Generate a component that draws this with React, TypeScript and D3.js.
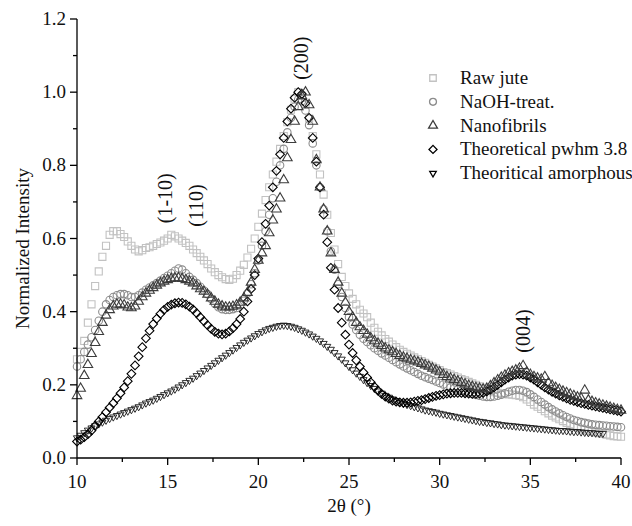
import React from "react";
import * as d3 from "d3";

const X_START = 10;
const X_STEP = 0.2;

const RAW_JUTE = [
  0.27, 0.29, 0.32, 0.37, 0.42, 0.47, 0.51, 0.55, 0.58, 0.61,
  0.62, 0.62, 0.612, 0.604, 0.592, 0.58, 0.57, 0.565, 0.568, 0.574,
  0.576, 0.58, 0.585, 0.589, 0.594, 0.6, 0.61, 0.606, 0.6, 0.594,
  0.588, 0.58, 0.57, 0.56, 0.55, 0.54, 0.53, 0.518, 0.508, 0.5,
  0.494, 0.489, 0.487, 0.49, 0.5, 0.512, 0.528, 0.548, 0.572, 0.6,
  0.632, 0.668, 0.705, 0.74, 0.775, 0.81, 0.845, 0.88, 0.918, 0.952,
  0.982, 1.0, 0.99, 0.965, 0.928, 0.88, 0.83, 0.775, 0.72, 0.665,
  0.615, 0.57, 0.53, 0.495, 0.47, 0.45, 0.435, 0.42, 0.405, 0.395,
  0.385, 0.37, 0.356, 0.345, 0.335, 0.325, 0.318, 0.31, 0.303, 0.296,
  0.29, 0.285, 0.28, 0.275, 0.27, 0.265, 0.26, 0.255, 0.25, 0.245,
  0.24, 0.235, 0.232, 0.228, 0.224, 0.22, 0.216, 0.212, 0.208, 0.204,
  0.2, 0.196, 0.192, 0.188, 0.184, 0.18, 0.178, 0.176, 0.175, 0.174,
  0.173, 0.172, 0.17, 0.166, 0.16, 0.153, 0.146, 0.14, 0.134, 0.128,
  0.122, 0.116, 0.111, 0.106, 0.101, 0.096, 0.092, 0.088, 0.084, 0.08,
  0.077, 0.074, 0.072, 0.07, 0.068, 0.066, 0.064, 0.062, 0.06, 0.059,
  0.058,
];

const NAOH_TREAT = [
  0.25, 0.27, 0.29, 0.31, 0.33, 0.35, 0.375, 0.4, 0.42, 0.432,
  0.44, 0.445, 0.448, 0.448, 0.445, 0.44, 0.44, 0.445, 0.452, 0.46,
  0.466, 0.472, 0.478, 0.485, 0.492, 0.498, 0.505, 0.512, 0.518, 0.515,
  0.505, 0.495, 0.487, 0.478, 0.468, 0.458, 0.448, 0.435, 0.422, 0.412,
  0.407, 0.405, 0.405, 0.407, 0.41, 0.418, 0.43, 0.45, 0.475, 0.505,
  0.54, 0.58, 0.62, 0.665, 0.71, 0.755, 0.8, 0.845, 0.89, 0.93,
  0.96, 0.98, 0.975, 0.95, 0.91, 0.86, 0.8, 0.74, 0.68, 0.62,
  0.565, 0.515, 0.475, 0.44, 0.41, 0.385, 0.365, 0.35, 0.337, 0.326,
  0.317, 0.308, 0.3, 0.293, 0.286, 0.28, 0.274, 0.268, 0.262, 0.256,
  0.25, 0.245, 0.24, 0.235, 0.23, 0.225, 0.221, 0.217, 0.213, 0.209,
  0.205, 0.201, 0.197, 0.193, 0.19, 0.187, 0.184, 0.181, 0.178, 0.175,
  0.172, 0.17, 0.168, 0.167, 0.167, 0.168, 0.17, 0.173, 0.177, 0.181,
  0.184, 0.186, 0.186, 0.184, 0.18, 0.174, 0.167, 0.16, 0.153, 0.146,
  0.139, 0.133, 0.127, 0.122, 0.117, 0.112, 0.108, 0.104, 0.101, 0.098,
  0.096, 0.094, 0.092, 0.091, 0.09, 0.089, 0.088, 0.087, 0.086, 0.085,
  0.084,
];

const NANOFIBRILS = [
  0.17, 0.19, 0.225, 0.255, 0.285, 0.315, 0.345, 0.37, 0.39, 0.405,
  0.415, 0.42, 0.42, 0.418, 0.412, 0.41, 0.415, 0.428, 0.44, 0.45,
  0.458, 0.465, 0.472, 0.478, 0.483, 0.487, 0.49, 0.492, 0.492, 0.49,
  0.487, 0.483, 0.478, 0.47, 0.462, 0.455, 0.447, 0.437, 0.428, 0.42,
  0.415, 0.412, 0.412, 0.414, 0.418, 0.425, 0.437, 0.452, 0.48, 0.515,
  0.54, 0.56, 0.58, 0.615, 0.65, 0.68, 0.71, 0.76, 0.82, 0.87,
  0.92, 0.96, 0.99, 1.0, 0.965, 0.92, 0.815, 0.74, 0.68, 0.62,
  0.56, 0.515, 0.48, 0.45, 0.425, 0.4, 0.385, 0.37, 0.358, 0.348,
  0.338, 0.328, 0.32, 0.313, 0.307, 0.3, 0.295, 0.29, 0.285, 0.28,
  0.275, 0.272, 0.268, 0.265, 0.262, 0.258, 0.254, 0.25, 0.245, 0.24,
  0.235, 0.228, 0.222, 0.218, 0.214, 0.21, 0.206, 0.202, 0.198, 0.195,
  0.192, 0.19, 0.188, 0.19, 0.197, 0.205, 0.213, 0.22, 0.226, 0.232,
  0.236, 0.24, 0.245, 0.252, 0.235, 0.228, 0.222, 0.218, 0.215, 0.222,
  0.205, 0.198, 0.192, 0.187, 0.182, 0.178, 0.174, 0.17, 0.166, 0.163,
  0.185, 0.158, 0.154, 0.15, 0.147, 0.144, 0.141, 0.138, 0.135, 0.132,
  0.13,
];

const THEORETICAL_PWHM = [
  0.045, 0.05, 0.057, 0.065, 0.075, 0.088, 0.1, 0.112, 0.125, 0.138,
  0.15, 0.163, 0.177, 0.193, 0.21, 0.23, 0.253, 0.278, 0.303, 0.327,
  0.348, 0.366, 0.381, 0.394, 0.405, 0.413, 0.419, 0.423, 0.425, 0.424,
  0.42, 0.414, 0.406, 0.396, 0.385, 0.374, 0.363, 0.353, 0.345, 0.34,
  0.338, 0.34, 0.346, 0.355, 0.366, 0.38, 0.4, 0.428, 0.462, 0.5,
  0.545, 0.59, 0.64, 0.69, 0.74, 0.785, 0.83, 0.875, 0.92, 0.955,
  0.985, 1.0, 0.995, 0.97, 0.93, 0.875, 0.81, 0.74, 0.665, 0.59,
  0.52, 0.46, 0.41, 0.37, 0.337, 0.31, 0.287, 0.267, 0.25, 0.234,
  0.22, 0.207, 0.195, 0.184, 0.175, 0.168, 0.162, 0.157, 0.154, 0.152,
  0.151, 0.151, 0.152, 0.154, 0.156, 0.158, 0.161, 0.164, 0.167, 0.17,
  0.172, 0.174, 0.176, 0.177, 0.178, 0.178, 0.178, 0.177, 0.176, 0.175,
  0.175, 0.176, 0.178, 0.182, 0.187, 0.193, 0.2, 0.207, 0.214, 0.22,
  0.225, 0.228, 0.229, 0.228, 0.225, 0.22, 0.214, 0.207, 0.2, 0.193,
  0.187, 0.181, 0.176, 0.171, 0.167, 0.163, 0.159, 0.156, 0.153, 0.15,
  0.148, 0.145, 0.143, 0.141, 0.139, 0.137, 0.135, 0.133, 0.131, 0.129,
  0.127,
];

const THEORETICAL_AMORPHOUS = [
  0.055, 0.062, 0.069, 0.076, 0.082, 0.088, 0.093, 0.098, 0.103, 0.108,
  0.112, 0.116, 0.12, 0.124, 0.128, 0.132, 0.136, 0.14, 0.145, 0.15,
  0.154, 0.158, 0.163, 0.168, 0.173, 0.178, 0.183, 0.188, 0.194, 0.2,
  0.206, 0.212, 0.218, 0.225, 0.232, 0.239, 0.246, 0.253, 0.26, 0.267,
  0.274, 0.281, 0.288, 0.295, 0.302, 0.309, 0.316, 0.322, 0.328, 0.334,
  0.34, 0.345, 0.35, 0.354, 0.357, 0.36, 0.362, 0.363, 0.362, 0.36,
  0.357, 0.353, 0.349, 0.344, 0.339, 0.333, 0.327, 0.32, 0.313, 0.305,
  0.297, 0.288, 0.279, 0.27, 0.26, 0.25, 0.241, 0.232, 0.223, 0.214,
  0.206, 0.198, 0.19, 0.183, 0.177, 0.171, 0.166, 0.161, 0.157, 0.153,
  0.149, 0.146, 0.143, 0.14, 0.137, 0.134, 0.131, 0.129, 0.127, 0.125,
  0.122, 0.12, 0.118, 0.116, 0.114, 0.112, 0.11, 0.108, 0.106, 0.104,
  0.102, 0.1, 0.099, 0.097, 0.096, 0.094, 0.093, 0.091, 0.09, 0.089,
  0.088, 0.087, 0.086, 0.085, 0.084, 0.083, 0.082, 0.081, 0.08, 0.079,
  0.078, 0.077, 0.076, 0.075, 0.075, 0.074, 0.073, 0.072, 0.072, 0.071,
  0.07, 0.069, 0.069, 0.068, 0.067, 0.067,
];

const X_TICKS = [10, 15, 20, 25, 30, 35, 40];
const X_MINOR = [12.5, 17.5, 22.5, 27.5, 32.5, 37.5];
const Y_TICKS = [0, 0.2, 0.4, 0.6, 0.8, 1.0, 1.2];
const Y_MINOR = [0.1, 0.3, 0.5, 0.7, 0.9, 1.1];

const SERIES_NAMES = [
  "Raw jute",
  "NaOH-treat.",
  "Nanofibrils",
  "Theoretical pwhm 3.8",
  "Theoritical amorphous",
];

const PEAK_LABELS = ["(1-10)", "(110)", "(200)", "(004)"];
const PEAK_X = [14.85, 16.56, 22.36, 34.6];
const PEAK_Y = [0.71, 0.69, 1.093, 0.347];

const FONT = '"Liberation Serif", "DejaVu Serif", "Noto Serif", serif';

type Style = {
  type: d3.SymbolType;
  size: number;
  rotate: number;
  stroke: string;
  width: number;
};

const STYLES: Style[] = [
  { type: d3.symbolSquare, size: 50, rotate: 0, stroke: "#c2c2c2", width: 1.1 },
  { type: d3.symbolCircle, size: 44, rotate: 0, stroke: "#8c8c8c", width: 1.1 },
  { type: d3.symbolTriangle, size: 40, rotate: 0, stroke: "#3c3c3c", width: 1.1 },
  { type: d3.symbolSquare, size: 38, rotate: 45, stroke: "#000000", width: 1.1 },
  { type: d3.symbolTriangle, size: 22, rotate: 180, stroke: "#1a1a1a", width: 0.9 },
];

const DATA = [RAW_JUTE, NAOH_TREAT, NANOFIBRILS, THEORETICAL_PWHM, THEORETICAL_AMORPHOUS];
const DRAW_ORDER = [0, 1, 4, 3, 2];

export default function App() {
  const W = 632;
  const H = 526;
  const x = d3.scaleLinear().domain([10, 40]).range([77, 621]);
  const y = d3.scaleLinear().domain([0, 1.2]).range([458, 19]);
  const x0 = x(10);
  const y0 = y(0);

  return (
    <svg
      width={W}
      height={H}
      style={{ position: "absolute", left: 0, top: 0, background: "#fff" }}
    >
      <rect width={W} height={H} fill="#fff" />
      {DRAW_ORDER.map((si) => {
        const st = STYLES[si];
        const path = d3.symbol().type(st.type).size(st.size)()!;
        return (
          <g key={si}>
            {DATA[si].map((v, i) => (
              <path
                key={i}
                d={path}
                transform={`translate(${x(X_START + X_STEP * i)},${y(v)}) rotate(${st.rotate})`}
                fill="none"
                stroke={st.stroke}
                strokeWidth={st.width}
              />
            ))}
          </g>
        );
      })}

      <line x1={x0} x2={x(40)} y1={y0} y2={y0} stroke="#000" strokeWidth={1.3} />
      <line x1={x0} x2={x0} y1={y0} y2={y(1.2)} stroke="#000" strokeWidth={1.3} />
      {X_MINOR.map((t) => (
        <line key={"xm" + t} x1={x(t)} x2={x(t)} y1={y0} y2={y0 + 4} stroke="#000" strokeWidth={1.3} />
      ))}
      {Y_MINOR.map((t) => (
        <line key={"ym" + t} x1={x0 - 4} x2={x0} y1={y(t)} y2={y(t)} stroke="#000" strokeWidth={1.3} />
      ))}
      {X_TICKS.map((t) => (
        <line key={"xtl" + t} x1={x(t)} x2={x(t)} y1={y0} y2={y0 + 7} stroke="#000" strokeWidth={1.3} />
      ))}
      {Y_TICKS.map((t) => (
        <line key={"ytl" + t} x1={x0 - 7} x2={x0} y1={y(t)} y2={y(t)} stroke="#000" strokeWidth={1.3} />
      ))}

      <g fontFamily={FONT} fill="#111">
        {X_TICKS.map((t) => (
          <text key={"xt" + t} x={x(t)} y={y0 + 30} fontSize={19} textAnchor="middle">
            {t}
          </text>
        ))}
        {Y_TICKS.map((t) => (
          <text key={"yt" + t} x={x0 - 11} y={y(t) + 6} fontSize={19} textAnchor="end">
            {t.toFixed(1)}
          </text>
        ))}

        <text x={(x0 + x(40)) / 2} y={512} fontSize={19} textAnchor="middle">
          2θ (°)
        </text>
        <text
          transform={`translate(29,${(y0 + y(1.2)) / 2 + 10}) rotate(-90)`}
          fontSize={19}
          textAnchor="middle"
        >
          Normalized Intensity
        </text>

        {PEAK_LABELS.map((lab, i) => (
          <text
            key={lab}
            transform={`translate(${x(PEAK_X[i]) + 7},${y(PEAK_Y[i])}) rotate(-90)`}
            fontSize={20}
            textAnchor="middle"
          >
            {lab}
          </text>
        ))}

        {SERIES_NAMES.map((name, i) => (
          <text key={name} x={460} y={78 + i * 23.8 + 6} fontSize={19}>
            {name}
          </text>
        ))}
      </g>

      {SERIES_NAMES.map((name, i) => {
        const st = STYLES[i];
        const ly = 78 + i * 23.8;
        const path = d3.symbol().type(st.type).size(st.size * 0.85)()!;
        return (
          <path
            key={"lg" + name}
            d={path}
            transform={`translate(433,${ly}) rotate(${st.rotate})`}
            fill="none"
            stroke={i === 4 ? "#000" : st.stroke}
            strokeWidth={1.3}
          />
        );
      })}
    </svg>
  );
}
